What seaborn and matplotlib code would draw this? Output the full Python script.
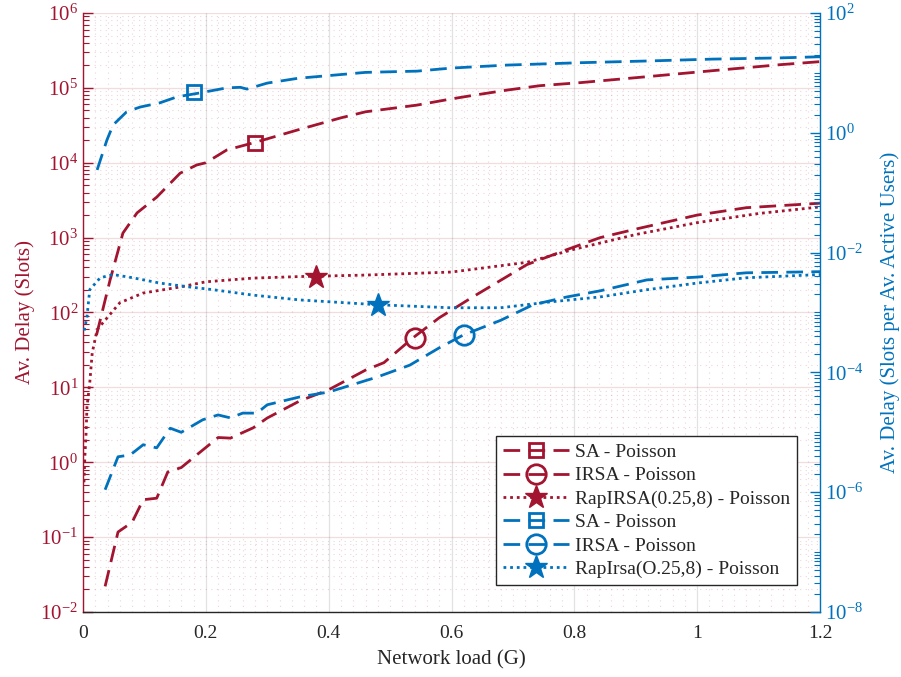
import numpy as np
import pandas as pd
import matplotlib
matplotlib.use("Agg")
import matplotlib.pyplot as plt
import seaborn as sns
from matplotlib.lines import Line2D
from matplotlib.ticker import (LogLocator, FixedLocator, MultipleLocator,
                               LogFormatterSciNotation, NullFormatter)

# ---------------- data ----------------
# left axis (Slots) - red curves
sa_red_x = [0.022, 0.044, 0.065, 0.088, 0.12, 0.158, 0.185, 0.20, 0.234, 0.283, 0.35, 0.42, 0.46,
            0.544, 0.598, 0.635, 0.69, 0.744, 0.81, 0.918, 1.026, 1.135, 1.2]
sa_red_y = [50, 270, 1150, 2140, 3470, 7240, 9330, 10000, 14800, 19000, 27500, 39800, 47900,
            58900, 70800, 79400, 93300, 107000, 117500, 141000, 170000, 204000, 224000]

irsa_red_x = [0.036, 0.057, 0.08, 0.098, 0.12, 0.138, 0.16, 0.19, 0.22, 0.24, 0.277, 0.30, 0.353,
              0.40, 0.46, 0.49, 0.537, 0.58, 0.635, 0.723, 0.788, 0.842, 0.9, 1.0, 1.08, 1.2]
irsa_red_y = [0.022, 0.117, 0.158, 0.316, 0.331, 0.74, 0.85, 1.35, 2.14, 2.1, 2.88, 3.9, 6.6,
              9.3, 17, 21.4, 45.7, 85, 162, 437, 692, 1000, 1300, 2000, 2510, 2880]

rap_red_x = [0.0016, 0.003, 0.005, 0.0065, 0.011, 0.015, 0.023, 0.06, 0.098, 0.158, 0.20, 0.277,
             0.353, 0.46, 0.6, 0.723, 0.8, 0.9, 1.0, 1.1, 1.2]
rap_red_y = [0.54, 1.17, 2.45, 5.5, 11.5, 28.8, 59, 135, 182, 219, 257, 288,
             302, 316, 347, 468, 700, 1100, 1585, 2100, 2570]

# right axis (Slots per Av. Active Users) - blue curves
sa_blue_x = [0.023, 0.039, 0.049, 0.071, 0.093, 0.125, 0.153, 0.187, 0.234, 0.256, 0.267, 0.30,
             0.35, 0.46, 0.544, 0.598, 0.635, 0.69, 0.81, 0.918, 1.026, 1.135, 1.2]
sa_blue_y = [0.24, 0.76, 1.35, 2.24, 2.69, 3.16, 3.98, 4.57, 5.62, 5.75, 5.37, 6.76,
             8.13, 10.2, 10.7, 12.0, 12.6, 13.5, 14.8, 15.8, 17.0, 17.8, 18.6]

irsa_blue_x = [0.036, 0.057, 0.077, 0.098, 0.12, 0.142, 0.16, 0.195, 0.22, 0.24, 0.26, 0.283, 0.30,
               0.353, 0.40, 0.478, 0.532, 0.58, 0.619, 0.68, 0.733, 0.788, 0.842, 0.918, 1.0, 1.08, 1.2]
irsa_blue_y = [1.1e-6, 3.9e-6, 4.2e-6, 6.2e-6, 5.5e-6, 1.17e-5, 1.0e-5, 1.62e-5, 1.95e-5, 1.74e-5,
               2.09e-5, 2.09e-5, 2.88e-5, 3.9e-5, 4.7e-5, 8.3e-5, 1.32e-4, 2.57e-4, 4.2e-4, 7.4e-4,
               1.35e-3, 1.82e-3, 2.3e-3, 3.5e-3, 3.9e-3, 4.6e-3, 4.8e-3]

rap_blue_x = [0.002, 0.0065, 0.011, 0.028, 0.049, 0.081, 0.125, 0.169, 0.212, 0.277, 0.353, 0.478,
              0.598, 0.68, 0.76, 0.842, 0.918, 1.0, 1.08, 1.2]
rap_blue_y = [5e-4, 8.5e-4, 2.4e-3, 3.8e-3, 4.3e-3, 3.8e-3, 3.1e-3, 2.7e-3, 2.4e-3, 1.95e-3, 1.62e-3,
              1.35e-3, 1.2e-3, 1.2e-3, 1.5e-3, 1.82e-3, 2.4e-3, 3.1e-3, 3.8e-3, 4.3e-3]

# single marker positions (x, y)
mk_sa_red = (0.28, 18200)
mk_irsa_red = (0.54, 45)
mk_rap_red = (0.38, 300)
mk_sa_blue = (0.18, 4.8)
mk_irsa_blue = (0.62, 4.2e-4)
mk_rap_blue = (0.48, 1.35e-3)

labels = ["SA - Poisson", "IRSA - Poisson", "RapIRSA(0.25,8) - Poisson",
          "SA - Poisson", "IRSA - Poisson", "RapIrsa(O.25,8) - Poisson"]
x_ticks = [0, 0.2, 0.4, 0.6, 0.8, 1.0, 1.2]
x_tick_labels = ["0", "0.2", "0.4", "0.6", "0.8", "1", "1.2"]

# ---------------- style ----------------
sns.set_theme(style="white")
plt.rcParams["font.family"] = ["Liberation Serif", "DejaVu Serif"]
plt.rcParams["mathtext.fontset"] = "custom"
plt.rcParams["mathtext.rm"] = "Liberation Serif"
plt.rcParams["mathtext.it"] = "Liberation Serif:italic"
plt.rcParams["axes.unicode_minus"] = False

RED = "#A2142F"
BLUE = "#0072BD"
DARK = "#262626"
LW = 2.0
DASH = (0, (6, 3))
DOT = (0, (1, 1.4))

fig = plt.figure(figsize=(9.01, 6.77), dpi=100)
ax = fig.add_axes([83 / 901, 1 - 612 / 677, (820 - 83) / 901, (612 - 13) / 677])
ax2 = ax.twinx()

def curve(axis, xs, ys, color, ls):
    df = pd.DataFrame({"x": xs, "y": ys})
    sns.lineplot(data=df, x="x", y="y", ax=axis, color=color, linestyle=ls, linewidth=LW,
                 estimator=None, sort=False, legend=False)

curve(ax, sa_red_x, sa_red_y, RED, DASH)
curve(ax, irsa_red_x, irsa_red_y, RED, DASH)
curve(ax, rap_red_x, rap_red_y, RED, DOT)
curve(ax2, sa_blue_x, sa_blue_y, BLUE, DASH)
curve(ax2, irsa_blue_x, irsa_blue_y, BLUE, DASH)
curve(ax2, rap_blue_x, rap_blue_y, BLUE, DOT)

mk_kw = dict(linestyle="none", markeredgewidth=2.0)
ax.plot(*mk_sa_red, marker="s", markersize=10, markerfacecolor="none", markeredgecolor=RED, **mk_kw)
ax.plot(*mk_irsa_red, marker="o", markersize=14, markerfacecolor="none", markeredgecolor=RED, **mk_kw)
ax.plot(*mk_rap_red, marker="*", markersize=17, markerfacecolor=RED, markeredgecolor=RED, markeredgewidth=1)
ax2.plot(*mk_sa_blue, marker="s", markersize=10, markerfacecolor="none", markeredgecolor=BLUE, **mk_kw)
ax2.plot(*mk_irsa_blue, marker="o", markersize=14, markerfacecolor="none", markeredgecolor=BLUE, **mk_kw)
ax2.plot(*mk_rap_blue, marker="*", markersize=17, markerfacecolor=BLUE, markeredgecolor=BLUE, markeredgewidth=1)

# ---------------- axes ----------------
ax.set_xlim(0, 1.2)
ax.set_yscale("log")
ax.set_ylim(1e-2, 1e6)
ax2.set_yscale("log")
ax2.set_ylim(1e-8, 1e2)

ax.set_xticks(x_ticks)
ax.set_xticklabels(x_tick_labels)
ax.xaxis.set_minor_locator(MultipleLocator(0.02))

ax.yaxis.set_major_locator(FixedLocator([10.0 ** k for k in range(-2, 7)]))
ax.yaxis.set_major_formatter(LogFormatterSciNotation())
ax.yaxis.set_minor_locator(LogLocator(base=10, subs=np.arange(2, 10), numticks=100))
ax.yaxis.set_minor_formatter(NullFormatter())
ax2.yaxis.set_major_locator(FixedLocator([10.0 ** k for k in range(-8, 3, 2)]))
ax2.yaxis.set_major_formatter(LogFormatterSciNotation())
ax2.yaxis.set_minor_locator(FixedLocator(
    [m * 10.0 ** k for k in range(-8, 2) for m in range(1, 10) if not (m == 1 and k % 2 == 0)]))
ax2.yaxis.set_minor_formatter(NullFormatter())

ax.tick_params(axis="x", which="major", direction="in", length=7, width=1, colors=DARK,
               labelsize=14, pad=9)
ax.tick_params(axis="x", which="minor", length=0)
ax.tick_params(axis="y", which="major", direction="in", length=7, width=1, colors=RED,
               labelsize=15, left=True)
ax.tick_params(axis="y", which="minor", direction="in", length=4, width=0.8, colors=RED, left=True)
ax2.tick_params(axis="y", which="major", direction="in", length=7, width=1, colors=BLUE,
                labelsize=15, right=True)
ax2.tick_params(axis="y", which="minor", direction="in", length=4, width=0.8, colors=BLUE, right=True)

for a in (ax, ax2):
    a.spines["top"].set_visible(False)
ax.spines["left"].set_color(RED)
ax.spines["bottom"].set_color(DARK)
ax.spines["right"].set_visible(False)
ax2.spines["left"].set_visible(False)
ax2.spines["right"].set_color(BLUE)
ax2.spines["bottom"].set_visible(False)
for s in ("left", "bottom"):
    ax.spines[s].set_linewidth(1.0)
ax2.spines["right"].set_linewidth(1.0)

ax.grid(True, which="major", axis="y", color=RED, alpha=0.15, linewidth=0.9)
ax.grid(True, which="major", axis="x", color=DARK, alpha=0.13, linewidth=0.9)
ax.grid(True, which="minor", axis="both", color=RED, alpha=0.18, linewidth=0.8, linestyle=(0, (1, 4)))
ax2.grid(False)

ax.set_xlabel("Network load (G)", fontsize=15, color=DARK, labelpad=6)
ax.set_ylabel("Av. Delay (Slots)", fontsize=15, color=RED, labelpad=4)
ax2.set_ylabel("Av. Delay (Slots per Av. Active Users)", fontsize=15, color=BLUE, labelpad=12)

# ---------------- legend ----------------
handles = [
    Line2D([], [], color=RED, linestyle=DASH, linewidth=LW, marker="s", markersize=10,
           markerfacecolor="none", markeredgewidth=2),
    Line2D([], [], color=RED, linestyle=DASH, linewidth=LW, marker="o", markersize=14,
           markerfacecolor="none", markeredgewidth=2),
    Line2D([], [], color=RED, linestyle=DOT, linewidth=LW, marker="*", markersize=17,
           markerfacecolor=RED, markeredgewidth=1),
    Line2D([], [], color=BLUE, linestyle=DASH, linewidth=LW, marker="s", markersize=10,
           markerfacecolor="none", markeredgewidth=2),
    Line2D([], [], color=BLUE, linestyle=DASH, linewidth=LW, marker="o", markersize=14,
           markerfacecolor="none", markeredgewidth=2),
    Line2D([], [], color=BLUE, linestyle=DOT, linewidth=LW, marker="*", markersize=17,
           markerfacecolor=BLUE, markeredgewidth=1),
]
leg = ax2.legend(handles, labels, loc="lower right", bbox_to_anchor=(0.969, 0.045),
                 fontsize=14, frameon=True, fancybox=False, framealpha=1,
                 edgecolor=DARK, facecolor="white", handlelength=3.4, handletextpad=0.3,
                 borderpad=0.35, labelspacing=0.3, borderaxespad=0)
leg.get_frame().set_linewidth(1.0)

fig.savefig("out.png", dpi=100)
